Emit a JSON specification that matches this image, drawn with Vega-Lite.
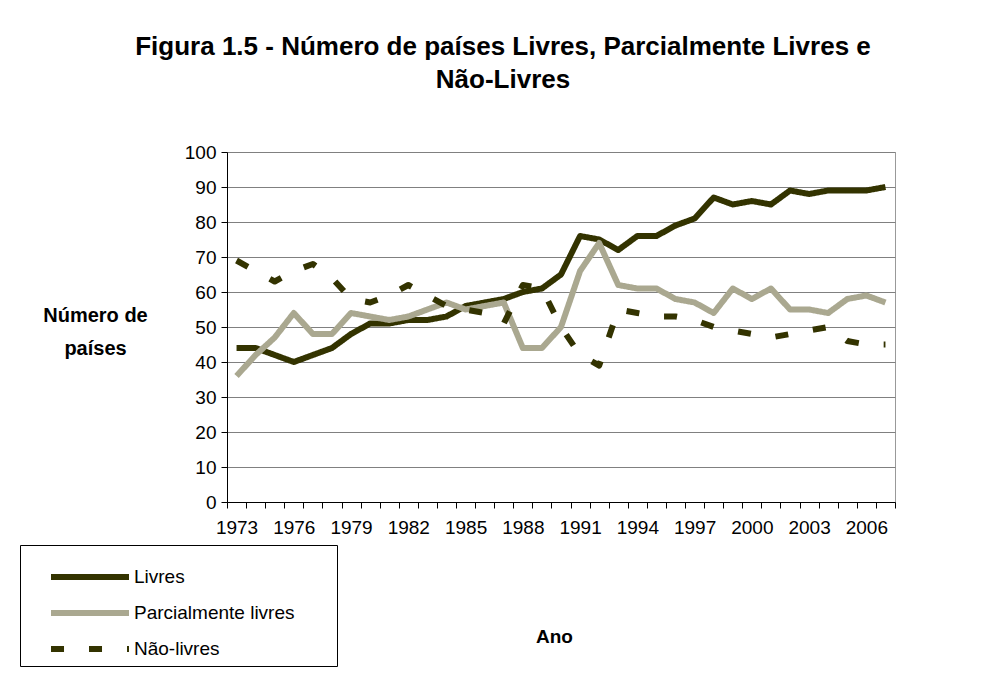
{
  "$schema": "https://vega.github.io/schema/vega-lite/v6.json",
  "width": 668,
  "height": 350,
  "autosize": {"type": "none"},
  "padding": {"left": 227, "top": 152, "right": 112, "bottom": 178},
  "background": "white",
  "title": {
    "text": ["Figura 1.5 - Número de países Livres, Parcialmente Livres e", "Não-Livres"],
    "font": "Liberation Sans",
    "fontSize": 26,
    "fontWeight": "bold",
    "color": "black",
    "anchor": "middle",
    "frame": "group",
    "dx": -58,
    "offset": 50,
    "lineHeight": 33
  },
  "data": {
    "values": [
      {"ano": 1973, "serie": "Livres", "valor": 44},
      {"ano": 1974, "serie": "Livres", "valor": 44},
      {"ano": 1975, "serie": "Livres", "valor": 42},
      {"ano": 1976, "serie": "Livres", "valor": 40},
      {"ano": 1977, "serie": "Livres", "valor": 42},
      {"ano": 1978, "serie": "Livres", "valor": 44},
      {"ano": 1979, "serie": "Livres", "valor": 48},
      {"ano": 1980, "serie": "Livres", "valor": 51},
      {"ano": 1981, "serie": "Livres", "valor": 51},
      {"ano": 1982, "serie": "Livres", "valor": 52},
      {"ano": 1983, "serie": "Livres", "valor": 52},
      {"ano": 1984, "serie": "Livres", "valor": 53},
      {"ano": 1985, "serie": "Livres", "valor": 56},
      {"ano": 1986, "serie": "Livres", "valor": 57},
      {"ano": 1987, "serie": "Livres", "valor": 58},
      {"ano": 1988, "serie": "Livres", "valor": 60},
      {"ano": 1989, "serie": "Livres", "valor": 61},
      {"ano": 1990, "serie": "Livres", "valor": 65},
      {"ano": 1991, "serie": "Livres", "valor": 76},
      {"ano": 1992, "serie": "Livres", "valor": 75},
      {"ano": 1993, "serie": "Livres", "valor": 72},
      {"ano": 1994, "serie": "Livres", "valor": 76},
      {"ano": 1995, "serie": "Livres", "valor": 76},
      {"ano": 1996, "serie": "Livres", "valor": 79},
      {"ano": 1997, "serie": "Livres", "valor": 81},
      {"ano": 1998, "serie": "Livres", "valor": 87},
      {"ano": 1999, "serie": "Livres", "valor": 85},
      {"ano": 2000, "serie": "Livres", "valor": 86},
      {"ano": 2001, "serie": "Livres", "valor": 85},
      {"ano": 2002, "serie": "Livres", "valor": 89},
      {"ano": 2003, "serie": "Livres", "valor": 88},
      {"ano": 2004, "serie": "Livres", "valor": 89},
      {"ano": 2005, "serie": "Livres", "valor": 89},
      {"ano": 2006, "serie": "Livres", "valor": 89},
      {"ano": 2007, "serie": "Livres", "valor": 90},
      {"ano": 1973, "serie": "Parcialmente livres", "valor": 36},
      {"ano": 1974, "serie": "Parcialmente livres", "valor": 42},
      {"ano": 1975, "serie": "Parcialmente livres", "valor": 47},
      {"ano": 1976, "serie": "Parcialmente livres", "valor": 54},
      {"ano": 1977, "serie": "Parcialmente livres", "valor": 48},
      {"ano": 1978, "serie": "Parcialmente livres", "valor": 48},
      {"ano": 1979, "serie": "Parcialmente livres", "valor": 54},
      {"ano": 1980, "serie": "Parcialmente livres", "valor": 53},
      {"ano": 1981, "serie": "Parcialmente livres", "valor": 52},
      {"ano": 1982, "serie": "Parcialmente livres", "valor": 53},
      {"ano": 1983, "serie": "Parcialmente livres", "valor": 55},
      {"ano": 1984, "serie": "Parcialmente livres", "valor": 57},
      {"ano": 1985, "serie": "Parcialmente livres", "valor": 55},
      {"ano": 1986, "serie": "Parcialmente livres", "valor": 56},
      {"ano": 1987, "serie": "Parcialmente livres", "valor": 57},
      {"ano": 1988, "serie": "Parcialmente livres", "valor": 44},
      {"ano": 1989, "serie": "Parcialmente livres", "valor": 44},
      {"ano": 1990, "serie": "Parcialmente livres", "valor": 50},
      {"ano": 1991, "serie": "Parcialmente livres", "valor": 66},
      {"ano": 1992, "serie": "Parcialmente livres", "valor": 74},
      {"ano": 1993, "serie": "Parcialmente livres", "valor": 62},
      {"ano": 1994, "serie": "Parcialmente livres", "valor": 61},
      {"ano": 1995, "serie": "Parcialmente livres", "valor": 61},
      {"ano": 1996, "serie": "Parcialmente livres", "valor": 58},
      {"ano": 1997, "serie": "Parcialmente livres", "valor": 57},
      {"ano": 1998, "serie": "Parcialmente livres", "valor": 54},
      {"ano": 1999, "serie": "Parcialmente livres", "valor": 61},
      {"ano": 2000, "serie": "Parcialmente livres", "valor": 58},
      {"ano": 2001, "serie": "Parcialmente livres", "valor": 61},
      {"ano": 2002, "serie": "Parcialmente livres", "valor": 55},
      {"ano": 2003, "serie": "Parcialmente livres", "valor": 55},
      {"ano": 2004, "serie": "Parcialmente livres", "valor": 54},
      {"ano": 2005, "serie": "Parcialmente livres", "valor": 58},
      {"ano": 2006, "serie": "Parcialmente livres", "valor": 59},
      {"ano": 2007, "serie": "Parcialmente livres", "valor": 57},
      {"ano": 1973, "serie": "Não-livres", "valor": 69},
      {"ano": 1974, "serie": "Não-livres", "valor": 66},
      {"ano": 1975, "serie": "Não-livres", "valor": 63},
      {"ano": 1976, "serie": "Não-livres", "valor": 66},
      {"ano": 1977, "serie": "Não-livres", "valor": 68},
      {"ano": 1978, "serie": "Não-livres", "valor": 64},
      {"ano": 1979, "serie": "Não-livres", "valor": 58},
      {"ano": 1980, "serie": "Não-livres", "valor": 57},
      {"ano": 1981, "serie": "Não-livres", "valor": 59},
      {"ano": 1982, "serie": "Não-livres", "valor": 62},
      {"ano": 1983, "serie": "Não-livres", "valor": 59},
      {"ano": 1984, "serie": "Não-livres", "valor": 56},
      {"ano": 1985, "serie": "Não-livres", "valor": 55},
      {"ano": 1986, "serie": "Não-livres", "valor": 54},
      {"ano": 1987, "serie": "Não-livres", "valor": 51},
      {"ano": 1988, "serie": "Não-livres", "valor": 62},
      {"ano": 1989, "serie": "Não-livres", "valor": 61},
      {"ano": 1990, "serie": "Não-livres", "valor": 50},
      {"ano": 1991, "serie": "Não-livres", "valor": 42},
      {"ano": 1992, "serie": "Não-livres", "valor": 39},
      {"ano": 1993, "serie": "Não-livres", "valor": 55},
      {"ano": 1994, "serie": "Não-livres", "valor": 54},
      {"ano": 1995, "serie": "Não-livres", "valor": 53},
      {"ano": 1996, "serie": "Não-livres", "valor": 53},
      {"ano": 1997, "serie": "Não-livres", "valor": 52},
      {"ano": 1998, "serie": "Não-livres", "valor": 50},
      {"ano": 1999, "serie": "Não-livres", "valor": 49},
      {"ano": 2000, "serie": "Não-livres", "valor": 48},
      {"ano": 2001, "serie": "Não-livres", "valor": 47},
      {"ano": 2002, "serie": "Não-livres", "valor": 48},
      {"ano": 2003, "serie": "Não-livres", "valor": 49},
      {"ano": 2004, "serie": "Não-livres", "valor": 50},
      {"ano": 2005, "serie": "Não-livres", "valor": 46},
      {"ano": 2006, "serie": "Não-livres", "valor": 45},
      {"ano": 2007, "serie": "Não-livres", "valor": 45}
    ]
  },
  "mark": {"type": "line", "strokeWidth": 6, "strokeJoin": "round"},
  "encoding": {
    "x": {
      "field": "ano",
      "type": "quantitative",
      "scale": {"domain": [1972.5, 2007.5], "nice": false, "zero": false},
      "axis": {
        "values": [1972.5, 1973.5, 1974.5, 1975.5, 1976.5, 1977.5, 1978.5, 1979.5, 1980.5, 1981.5, 1982.5, 1983.5, 1984.5, 1985.5, 1986.5, 1987.5, 1988.5, 1989.5, 1990.5, 1991.5, 1992.5, 1993.5, 1994.5, 1995.5, 1996.5, 1997.5, 1998.5, 1999.5, 2000.5, 2001.5, 2002.5, 2003.5, 2004.5, 2005.5, 2006.5, 2007.5, 1973, 1976, 1979, 1982, 1985, 1988, 1991, 1994, 1997, 2000, 2003, 2006],
        "labelExpr": "datum.value % 1 === 0 ? '' + datum.value : ''",
        "tickOpacity": {"condition": {"test": "datum.value % 1 === 0", "value": 0}, "value": 1},
        "grid": false,
        "labelOverlap": false,
        "labelFlush": false,
        "labelBound": false,
        "labelFontSize": 19,
        "labelPadding": 10,
        "tickSize": 6,
        "title": "Ano",
        "titleX": 327,
        "titleY": 140,
        "titleAlign": "center",
        "titleBaseline": "alphabetic",
        "titleFontSize": 19
      }
    },
    "y": {
      "field": "valor",
      "type": "quantitative",
      "scale": {"domain": [0, 100], "nice": false},
      "axis": {
        "values": [0, 10, 20, 30, 40, 50, 60, 70, 80, 90, 100],
        "grid": true,
        "labelFontSize": 19,
        "labelPadding": 5,
        "tickSize": 6,
        "title": ["Número de", "países"],
        "titleAngle": 0,
        "titleX": -132,
        "titleY": 169,
        "titleAlign": "center",
        "titleBaseline": "alphabetic",
        "titleFontSize": 20,
        "titleLineHeight": 33
      }
    },
    "color": {
      "field": "serie",
      "type": "nominal",
      "scale": {
        "domain": ["Livres", "Parcialmente livres", "Não-livres"],
        "range": ["#333300", "#aaa890", "#333300"]
      },
      "legend": {
        "orient": "none",
        "legendX": -207,
        "legendY": 393,
        "title": "\u200b",
        "titleFontSize": 11,
        "titlePadding": 3,
        "symbolType": "M-4,0H4",
        "symbolSize": 380,
        "symbolStrokeWidth": 6,
        "symbolOffset": 52,
        "labelOffset": 31,
        "labelFontSize": 19,
        "labelLimit": 400,
        "labelColor": "black",
        "rowPadding": 11,
        "padding": 5,
        "strokeColor": "black",
        "labelExpr": "datum.label + '\u00a0\u00a0\u00a0\u00a0\u00a0\u00a0\u00a0\u200b'"
      }
    },
    "strokeDash": {
      "field": "serie",
      "type": "nominal",
      "scale": {
        "domain": ["Livres", "Parcialmente livres", "Não-livres"],
        "range": [[1, 0], [1, 0], [13, 25]]
      }
    }
  },
  "config": {
    "font": "Liberation Sans",
    "view": {"stroke": "#999999", "strokeWidth": 1},
    "axis": {
      "domainColor": "black",
      "tickColor": "black",
      "gridColor": "#808080",
      "labelColor": "black",
      "titleColor": "black",
      "titleFontWeight": "bold",
      "labelFont": "Liberation Sans",
      "titleFont": "Liberation Sans"
    },
    "legend": {"labelFont": "Liberation Sans"}
  }
}
